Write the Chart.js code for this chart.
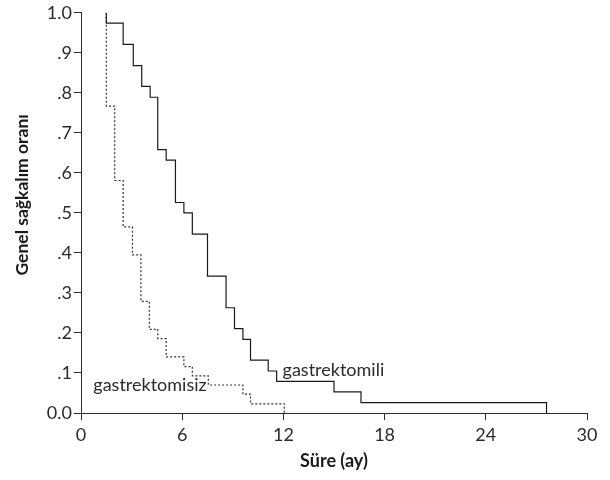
<!DOCTYPE html>
<html>
<head>
<meta charset="utf-8">
<script src="https://cdn.jsdelivr.net/npm/chart.js@4.4.1/dist/chart.umd.min.js"></script>
<style>
  html, body { margin: 0; padding: 0; background: #fff; }
  #wrap { width: 610px; height: 480px; }
</style>
</head>
<body>
<div id="wrap"><canvas id="myChart" width="610" height="480"></canvas></div>
<script>
// Données (temps en mois, taux de survie)
const timeMili = [1.5, 1.5, 2.5, 3.1, 3.6, 4.1, 4.55, 5.05, 5.6, 6.1, 6.6, 7.5, 8.6, 9.1, 9.6, 10.05, 11.1, 11.6, 15.0, 16.6, 27.6];
const survMili = [1.0, 0.974, 0.921, 0.868, 0.816, 0.789, 0.658, 0.632, 0.526, 0.5, 0.447, 0.342, 0.263, 0.211, 0.184, 0.132, 0.105, 0.079, 0.053, 0.026, 0];

const timeMisiz = [1.5, 1.5, 2.0, 2.5, 3.05, 3.55, 4.05, 4.55, 5.05, 6.1, 6.6, 7.55, 9.6, 10.05, 12.05];
const survMisiz = [1.0, 0.767, 0.581, 0.465, 0.395, 0.279, 0.209, 0.186, 0.14, 0.116, 0.093, 0.07, 0.047, 0.023, 0];

const seriesNames = ["gastrektomili", "gastrektomisiz"];
const labelX = [11.95, 7.45];
const labelY = [0.107, 0.07];

const xTicks = [0, 6, 12, 18, 24, 30];
const yTickLabels = ["0.0", ".1", ".2", ".3", ".4", ".5", ".6", ".7", ".8", ".9", "1.0"];

const yTitle = "Genel sağkalım oranı";
const xTitle = "Süre (ay)";

// Construction des points
function toPoints(t, s) {
  return t.map((v, i) => ({ x: v, y: s[i] }));
}

const inkColor = "#2b2b2b";
const fontName = "Lato, 'Open Sans', sans-serif";

// Étiquettes des courbes + titre vertical
const curveLabels = {
  id: "curveLabels",
  afterDatasetsDraw(chart) {
    const ctx = chart.ctx;
    const xs = chart.scales.x;
    const ys = chart.scales.y;
    ctx.save();
    ctx.font = "18px " + fontName;
    ctx.fillStyle = inkColor;
    ctx.textBaseline = "middle";
    seriesNames.forEach((name, i) => {
      ctx.textAlign = i === 0 ? "left" : "right";
      ctx.fillText(name, xs.getPixelForValue(labelX[i]), ys.getPixelForValue(labelY[i]));
    });
    // titre de l'axe y, un peu au-dessus du milieu comme sur l'original
    ctx.translate(22, ys.getPixelForValue(0.545));
    ctx.rotate(-Math.PI / 2);
    ctx.font = "bold 17.5px " + fontName;
    ctx.fillStyle = "#1a1a1a";
    ctx.textAlign = "center";
    ctx.fillText(yTitle, 0, 0);
    ctx.restore();
  }
};

const ctx = document.getElementById("myChart");
new Chart(ctx, {
  type: "line",
  data: {
    datasets: [
      {
        label: seriesNames[0],
        data: toPoints(timeMili, survMili),
        stepped: "before",
        borderColor: "#1a1a1a",
        borderWidth: 1.2,
        pointRadius: 0,
        fill: false
      },
      {
        label: seriesNames[1],
        data: toPoints(timeMisiz, survMisiz),
        stepped: "before",
        borderColor: "#333",
        borderWidth: 1.2,
        borderDash: [2, 2],
        pointRadius: 0,
        fill: false
      }
    ]
  },
  options: {
    responsive: false,
    animation: false,
    layout: { padding: { top: 12, right: 23, left: 0, bottom: 0 } },
    plugins: {
      legend: { display: false },
      tooltip: { enabled: false }
    },
    scales: {
      x: {
        type: "linear",
        min: 0,
        max: 30,
        afterBuildTicks: (scale) => { scale.ticks = xTicks.map(v => ({ value: v })); },
        afterFit: (scale) => { scale.height = 67; },
        border: { display: true, color: inkColor, width: 1 },
        grid: { drawOnChartArea: false, drawTicks: true, tickLength: 7, tickColor: inkColor },
        ticks: { color: inkColor, font: { family: fontName, size: 18 }, padding: 4, maxRotation: 0 },
        title: {
          display: true,
          text: xTitle,
          color: "#1a1a1a",
          font: { family: fontName, size: 18, weight: "bold" },
          padding: { top: 0, bottom: 8 }
        }
      },
      y: {
        type: "linear",
        min: 0,
        max: 1,
        afterBuildTicks: (scale) => { scale.ticks = yTickLabels.map((l, i) => ({ value: i / 10 })); },
        afterFit: (scale) => { scale.width = 81; },
        border: { display: true, color: inkColor, width: 1 },
        grid: { drawOnChartArea: false, drawTicks: true, tickLength: 7, tickColor: inkColor },
        ticks: {
          color: inkColor,
          font: { family: fontName, size: 18 },
          padding: 2,
          callback: (value, index) => yTickLabels[index]
        },
        title: { display: false }
      }
    }
  },
  plugins: [curveLabels]
});
</script>
</body>
</html>
